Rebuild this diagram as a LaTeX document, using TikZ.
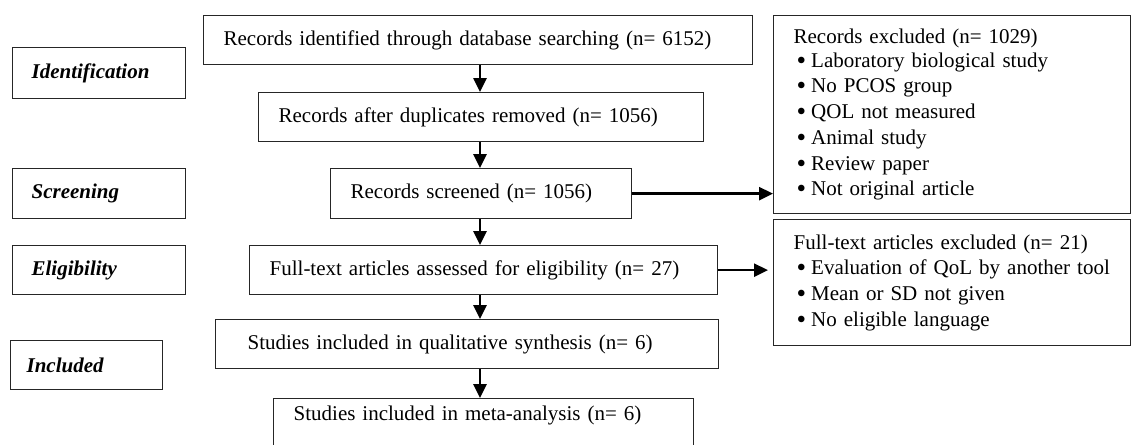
\documentclass[tikz,border=0pt]{standalone}
\usepackage{fontspec}
\setmainfont{Liberation Serif}
\usetikzlibrary{arrows.meta}
\newcommand{\bul}{\hspace*{3pt}\raisebox{-2pt}{\scalebox{1.3}{\textbullet}}\hspace{5pt}}
\begin{document}
\begin{tikzpicture}[x=1pt,y=-1pt,
  box/.style={draw=black!85, line width=1.3pt, anchor=north west, inner xsep=20pt, inner ysep=0pt,
    align=left, font=\fontsize{21}{25.7}\selectfont},
  stage/.style={box, font=\fontsize{21}{25.7}\selectfont\bfseries\itshape},
  arr/.style={line width=2.6pt, -{Triangle[width=13pt,length=14pt]}}]
\useasboundingbox (0,0) rectangle (1131,444);
\clip (0,0) rectangle (1131,444);
% stage labels
\node[stage, inner xsep=19pt, text width=135pt, minimum height=51pt] (id) at (12,47) {Identification};
\node[stage, inner xsep=19pt, text width=135pt, minimum height=50pt] (sc) at (12,168) {Screening};
\node[stage, inner xsep=19pt, text width=135pt, minimum height=49pt] (el) at (12,245) {Eligibility};
\node[stage, inner xsep=16pt, text width=120pt, minimum height=49pt] (in) at (10,340) {Included};
% main flow
\node[box, text width=509pt, minimum height=49pt] (b1) at (203,15) {Records identified through database searching (n= 6152)};
\node[box, text width=405pt, minimum height=49pt] (b2) at (258,92) {Records after duplicates removed (n= 1056)};
\node[box, text width=261pt, minimum height=50pt] (b3) at (330,168) {Records screened (n= 1056)};
\node[box, text width=428pt, minimum height=49pt] (b4) at (249,245) {Full-text articles assessed for eligibility (n= 27)};
\node[box, text width=463pt, minimum height=49pt] (b5) at (215,319) {\hspace*{12pt}Studies included in qualitative synthesis (n= 6)};
\node[box, text width=380pt, text height=14pt, text depth=50pt, inner ysep=8pt] (b6) at (273,398) {Studies included in meta-analysis (n= 6)};
% exclusion boxes
\node[box, text width=317pt, minimum height=198pt] (r1) at (773,15) {\raisebox{-2pt}{Records excluded (n= 1029)}\\
\bul Laboratory biological study\\
\bul No PCOS group\\
\bul QOL not measured\\
\bul Animal study\\
\bul Review paper\\
\bul Not original article};
\node[box, text width=317pt, minimum height=126pt] (r2) at (773,219) {Full-text articles excluded (n= 21)\\
\bul Evaluation of QoL by another tool\\
\bul Mean or SD not given\\
\bul No eligible language};
% connectors
\coordinate (ax) at (480,0);
\draw[arr] (b1.south -| ax) -- (b2.north -| ax);
\draw[arr] (b2.south -| ax) -- (b3.north -| ax);
\draw[arr] (b3.south -| ax) -- (b4.north -| ax);
\draw[arr] (b4.south -| ax) -- (b5.north -| ax);
\draw[arr] (b5.south -| ax) -- (b6.north -| ax);
\draw[arr] (b3.east) -- (b3.east -| r1.west);
\draw[arr, shorten >=5pt] (b4.east) -- (b4.east -| r2.west);
\end{tikzpicture}
\end{document}
